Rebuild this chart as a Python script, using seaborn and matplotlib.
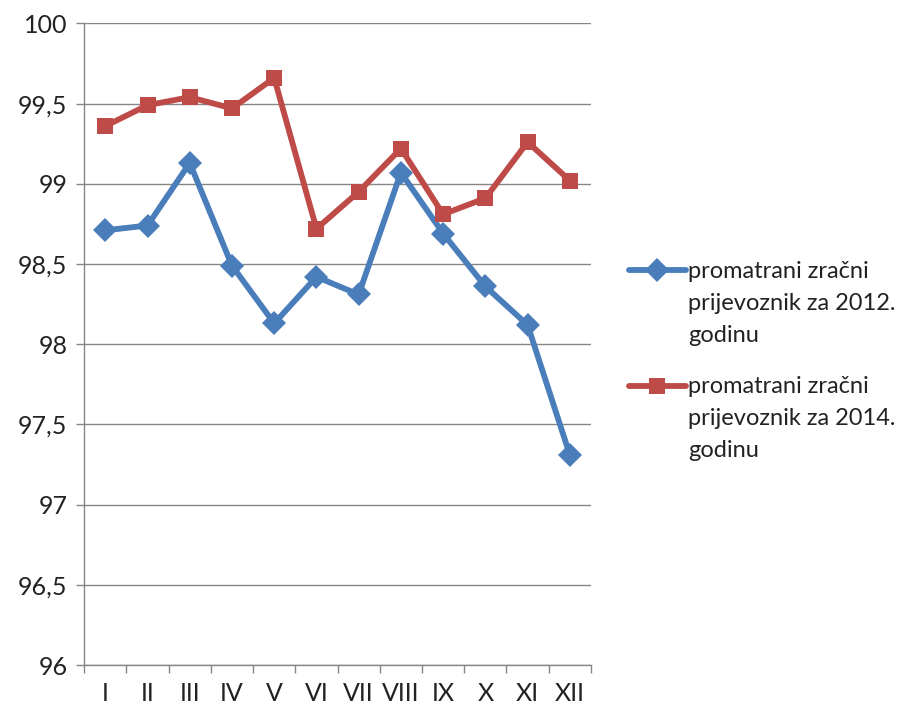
import pandas as pd
import matplotlib
matplotlib.use("Agg")
import matplotlib.pyplot as plt
import seaborn as sns

# Data
months = ["I", "II", "III", "IV", "V", "VI", "VII", "VIII", "IX", "X", "XI", "XII"]
carrier_2012 = [98.71, 98.74, 99.13, 98.49, 98.13, 98.42, 98.31, 99.07, 98.69, 98.36, 98.12, 97.31]
carrier_2014 = [99.36, 99.49, 99.54, 99.47, 99.66, 98.72, 98.95, 99.22, 98.81, 98.91, 99.26, 99.02]
series_labels = ["promatrani zračni\nprijevoznik za 2012.\ngodinu",
                 "promatrani zračni\nprijevoznik za 2014.\ngodinu"]
y_ticks = [96, 96.5, 97, 97.5, 98, 98.5, 99, 99.5, 100]

sns.set_theme(style="white")
plt.rcParams['font.family'] = ['Lato', 'DejaVu Sans']
FONT_SIZE = 18
LEGEND_SIZE = 17

df = pd.DataFrame({
    "pos": list(range(len(months))) * 2,
    "value": carrier_2012 + carrier_2014,
    "series": [series_labels[0]] * len(months) + [series_labels[1]] * len(months),
})

fig = plt.figure(figsize=(9.05, 7.09), dpi=100)
ax = fig.add_axes([0.093, 0.062, 0.56, 0.905])

palette = {series_labels[0]: "#4A7EBB", series_labels[1]: "#BE4B48"}
sns.lineplot(data=df, x="pos", y="value", hue="series", style="series",
             palette=palette, markers={series_labels[0]: "D", series_labels[1]: "s"},
             dashes=False, linewidth=4.2, markersize=12, markeredgewidth=0, ax=ax)

ax.set_xlim(-0.5, len(months) - 0.5)
ax.set_ylim(96, 100)
ax.set_yticks(y_ticks)
ax.set_yticklabels([f"{t:g}".replace(".", ",") for t in y_ticks], fontsize=FONT_SIZE, color="#222222")
ax.set_xticks(range(len(months)))
ax.set_xticklabels(months, fontsize=FONT_SIZE, color="#222222")
ax.set_xticks([i - 0.5 for i in range(len(months) + 1)], minor=True)
ax.tick_params(axis="x", which="major", length=0, pad=12)
ax.tick_params(axis="x", which="minor", length=6, color="#868686", width=1, direction="out", bottom=True)
ax.tick_params(axis="y", length=6, color="#868686", width=1, direction="out", left=True, pad=6)
ax.set_xlabel("")
ax.set_ylabel("")

ax.grid(axis="y", color="#868686", linewidth=1)
ax.set_axisbelow(True)
for side in ["top", "right"]:
    ax.spines[side].set_visible(False)
for side in ["left", "bottom"]:
    ax.spines[side].set_color("#868686")
    ax.spines[side].set_linewidth(1)

handles, labels = ax.get_legend_handles_labels()
leg = ax.legend(handles, labels, loc="upper left", bbox_to_anchor=(1.075, 0.63),
                frameon=False, fontsize=LEGEND_SIZE, handlelength=2.4, handleheight=1.1,
                handletextpad=0.1, labelspacing=1.3, borderpad=0, borderaxespad=0)
for t in leg.get_texts():
    t.set_linespacing(1.64)
    t.set_color("#222222")
# align each handle with the first line of its label
for column in leg._legend_handle_box.get_children():
    for item in column.get_children():
        item.align = "top"

fig.savefig("out.png", dpi=100)
